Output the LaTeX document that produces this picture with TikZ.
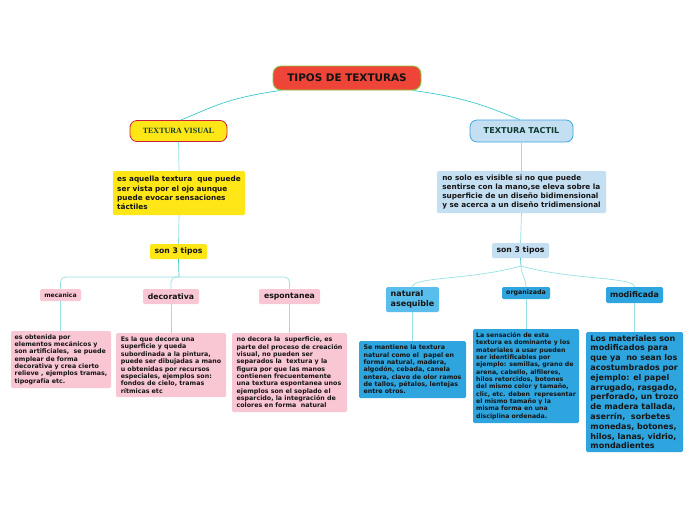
\documentclass[tikz,border=0pt]{standalone}
\usepackage{fontspec}
\setmainfont{DejaVu Sans}
\newfontfamily\serifbold{Liberation Serif}
\usepackage{xcolor}
\usetikzlibrary{calc,positioning}
\definecolor{rootred}{RGB}{239,68,56}
\definecolor{rootedge}{RGB}{140,198,63}
\definecolor{visyellow}{RGB}{255,230,22}
\definecolor{visedge}{RGB}{204,30,60}
\definecolor{tacblue}{RGB}{197,223,242}
\definecolor{tacedge}{RGB}{62,166,224}
\definecolor{pinkbox}{RGB}{249,199,212}
\definecolor{bluemid}{RGB}{90,190,236}
\definecolor{bluedark}{RGB}{46,165,222}
\definecolor{linkteal}{RGB}{62,200,204}
\definecolor{linklight}{RGB}{150,225,228}
\definecolor{inkdark}{RGB}{20,20,20}
\definecolor{inkgreen}{RGB}{12,60,50}

\begin{document}
\begin{tikzpicture}[
      x=1pt,y=-1pt,
      rootbox/.style={draw=rootedge,fill=rootred,line width=0.9pt,rounded corners=8pt,minimum width=148pt,minimum height=24pt,inner sep=0pt,font=\fontsize{10.4}{12}\selectfont\bfseries,text=inkdark},
      visbox/.style={draw=visedge,fill=visyellow,line width=0.8pt,rounded corners=7pt,minimum width=97pt,minimum height=21pt,inner sep=0pt,font=\serifbold\fontsize{8}{9}\selectfont\bfseries,text=inkgreen},
      tacbox/.style={draw=tacedge,fill=tacblue,line width=0.8pt,rounded corners=7pt,minimum width=103pt,minimum height=22pt,inner sep=0pt,font=\fontsize{8.1}{9}\selectfont\bfseries,text=inkgreen},
      desc/.style={rounded corners=1.5pt,inner sep=1pt,align=left,font=\fontsize{7.3}{9.2}\selectfont\bfseries,text=inkdark},
      tag/.style={rounded corners=1.5pt,inner sep=2pt,font=\fontsize{7.7}{8.5}\selectfont\bfseries,text=inkdark},
      note/.style={rounded corners=1.5pt,inner sep=1pt,align=left,font=\fontsize{6.3}{7.35}\selectfont\bfseries,text=inkdark},
      link/.style={draw=linkteal,line width=0.7pt},
      branch/.style={draw=linklight,line width=0.7pt}]
    \useasboundingbox[fill=white] (0,0) rectangle (696,520);
    % main topic and the two kinds
    \node[rootbox] (root) at (347,78) {TIPOS DE TEXTURAS};
    \node[visbox] (vis) at (178.5,131) {TEXTURA VISUAL};
    \node[tacbox] (tac) at (521.5,131) {TEXTURA TACTIL};
    \draw[link] ([xshift=8pt]root.south west) .. controls +(-55,8) and +(35,-14) .. ([xshift=2pt]vis.north);
    \draw[link] ([xshift=-8pt]root.south east) .. controls +(55,8) and +(-35,-14) .. ([xshift=-2pt]tac.north);
    % visual side
    \node[desc,fill=visyellow,minimum width=132pt,minimum height=44pt] (visdesc) at (179,193)
      {es aquella textura\ \ que puede\\ser vista por el ojo aunque\\puede evocar sensaciones\\táctiles};
    \node[tag,fill=visyellow,minimum width=57pt,minimum height=15pt] (visthree) at (178.5,251.5) {son 3 tipos};
    \draw[branch] (vis.south) -- (visdesc.north);
    \draw[branch] (visdesc.south) -- (visthree.north);
    \node[tag,fill=pinkbox,font=\fontsize{6.1}{7}\selectfont\bfseries,minimum width=41pt,minimum height=12pt] (mec) at (60.5,295) {mecanica};
    \node[tag,fill=pinkbox,minimum width=56pt,minimum height=15pt] (deco) at (171,296.5) {decorativa};
    \node[tag,fill=pinkbox,minimum width=61pt,minimum height=15pt] (espo) at (289.5,296.5) {espontanea};
    \coordinate (vishub) at (179,277);
    \draw[link] (visthree.south) -- (vishub);
    \draw[branch,rounded corners=5pt] (mec.north) |- (vishub) -| (espo.north);
    \draw[branch,rounded corners=5pt] (deco.north) |- (vishub);
    \node[note,fill=pinkbox,minimum width=100pt,minimum height=57pt] (mectext) at (61,359.5)
      {es obtenida por\\elementos mecánicos y\\son artificiales,\ \ se puede\\emplear de forma\\decorativa y crea cierto\\relieve , ejemplos tramas,\\tipografía etc.};
    \node[note,fill=pinkbox,minimum width=110pt,minimum height=64pt] (decotext) at (171,365)
      {Es la que decora una\\superficie y queda\\subordinada a la pintura,\\puede ser dibujadas a mano\\u obtenidas por recursos\\especiales, ejemplos son:\\fondos de cielo, tramas\\rítmicas etc};
    \node[note,fill=pinkbox,minimum width=115pt,minimum height=79pt] (espotext) at (289.5,372.5)
      {no decora la\ \ superficie, es\\parte del proceso de creación\\visual, no pueden ser\\separados la\ \ textura y la\\figura por que las manos\\contienen frecuentemente\\una textura espontanea unos\\ejemplos son el soplado el\\esparcido, la integración de\\colores en forma\ \ natural};
    \draw[branch] (mec.south) -- (mec.south |- mectext.north);
    \draw[branch] (deco.south) -- (deco.south |- decotext.north);
    \draw[branch] (espo.south) -- (espo.south |- espotext.north);
    % tactile side
    \node[desc,fill=tacblue,minimum width=169pt,minimum height=42pt,font=\fontsize{7.3}{9}\selectfont\bfseries] (tacdesc) at (521.5,192)
      {no solo es visible si no que puede\\sentirse con la mano,se eleva sobre la\\superficie de un diseño bidimensional\\y se acerca a un diseño tridimensional};
    \node[tag,fill=tacblue,minimum width=57pt,minimum height=15pt] (tacthree) at (520.5,250.5) {son 3 tipos};
    \draw[branch] (tac.south) -- (tacdesc.north);
    \draw[branch] (tacdesc.south) -- (tacthree.north);
    \node[tag,fill=bluemid,align=left,font=\fontsize{8}{9.5}\selectfont\bfseries,minimum width=53pt,minimum height=25pt] (natu) at (412.5,299.5) {natural\\asequible};
    \node[tag,fill=bluedark,font=\fontsize{6.3}{7}\selectfont\bfseries,minimum width=48pt,minimum height=12pt] (orga) at (526,293) {organizada};
    \node[tag,fill=bluedark,font=\fontsize{7.9}{8.5}\selectfont\bfseries,minimum width=57pt,minimum height=16pt] (modi) at (634.5,295) {modificada};
    \coordinate (tachub) at (521,266);
    \draw[link] (tacthree.south) -- (tachub);
    \draw[branch] (tachub) .. controls +(-50,14) and +(0,-10) .. (natu.north);
    \draw[branch] (tachub) .. controls +(0,8) and +(0,-8) .. (orga.north);
    \draw[branch] (tachub) .. controls +(50,14) and +(0,-10) .. (modi.north);
    \node[note,fill=bluedark,minimum width=107pt,minimum height=57pt] (natutext) at (412.5,369.5)
      {Se mantiene la textura\\natural como el\ \ papel en\\forma natural, madera,\\algodón, cebada, canela\\entera, clavo de olor ramos\\de tallos, pétalos, lentejas\\entre otros.};
    \node[note,fill=bluedark,minimum width=106pt,minimum height=94pt,font=\fontsize{6.2}{7.35}\selectfont\bfseries] (orgatext) at (526,376)
      {La sensación de esta\\textura es dominante y los\\materiales a usar pueden\\ser identificables por\\ejemplo: semillas, grano de\\arena, cabello, alfileres,\\hilos retorcidos, botones\\del mismo color y tamaño,\\clic, etc. deben\ \ representar\\el mismo tamaño y la\\misma forma en una\\disciplina ordenada.};
    \node[note,fill=bluedark,minimum width=97pt,minimum height=120pt,font=\fontsize{8}{9.8}\selectfont\bfseries] (moditext) at (634.5,392)
      {Los materiales son\\modificados para\\que ya\ \ no sean los\\acostumbrados por\\ejemplo: el papel\\arrugado, rasgado,\\perforado, un trozo\\de madera tallada,\\aserrín,\ \ sorbetes\\monedas, botones,\\hilos, lanas, vidrio,\\mondadientes};
    \draw[branch] (natu.south) -- (natu.south |- natutext.north);
    \draw[branch] (orga.south) -- (orga.south |- orgatext.north);
    \draw[branch] (modi.south) -- (modi.south |- moditext.north);
\end{tikzpicture}
\end{document}
